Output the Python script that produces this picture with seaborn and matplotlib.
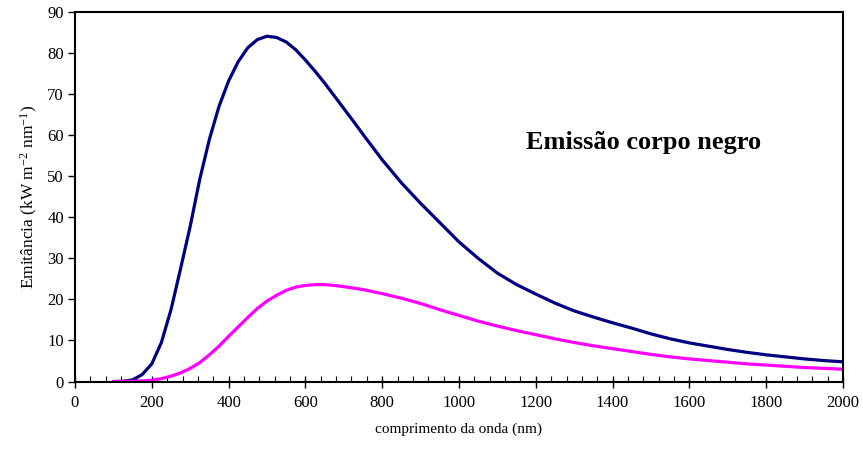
import numpy as np
import pandas as pd
import matplotlib
matplotlib.use('Agg')
import matplotlib.pyplot as plt
from matplotlib.ticker import MultipleLocator
import seaborn as sns

# values (nm, kW m-2 nm-1)
wl_hot = [100, 125, 150, 175, 200, 225, 250, 275, 300, 325, 350, 375, 400, 425, 450,
          475, 500, 525, 550, 575, 600, 625, 650, 675, 700, 725, 750, 775, 800, 850,
          900, 950, 1000, 1050, 1100, 1150, 1200, 1250, 1300, 1350, 1400, 1450, 1500,
          1550, 1600, 1650, 1700, 1750, 1800, 1850, 1900, 1950, 2000]
em_hot = [0.0, 0.05, 0.4, 1.7, 4.3, 9.5, 17.5, 27.5, 37.8, 49.3, 59.0, 67.0, 73.2, 77.9, 81.3,
          83.3, 84.1, 83.8, 82.7, 80.8, 78.3, 75.6, 72.7, 69.6, 66.5, 63.4, 60.2, 57.1, 54.0, 48.4,
          43.4, 38.7, 34.0, 30.0, 26.4, 23.6, 21.3, 19.1, 17.2, 15.7, 14.3, 13.0, 11.6,
          10.4, 9.4, 8.6, 7.8, 7.1, 6.5, 6.0, 5.5, 5.1, 4.8]

wl_cool = [100, 150, 200, 225, 250, 275, 300, 325, 350, 375, 400, 425, 450, 475, 500,
           525, 550, 575, 600, 625, 650, 675, 700, 750, 800, 850, 900, 950, 1000, 1050,
           1100, 1150, 1200, 1250, 1300, 1350, 1400, 1450, 1500, 1550, 1600, 1650, 1700,
           1750, 1800, 1850, 1900, 1950, 2000]
em_cool = [0.0, 0.05, 0.3, 0.7, 1.3, 2.1, 3.2, 4.6, 6.5, 8.6, 11.0, 13.3, 15.6, 17.8, 19.6,
           21.0, 22.2, 23.0, 23.4, 23.6, 23.6, 23.4, 23.1, 22.4, 21.4, 20.3, 19.0, 17.5, 16.1, 14.7,
           13.5, 12.4, 11.4, 10.4, 9.5, 8.7, 8.0, 7.3, 6.6, 6.0, 5.5, 5.1, 4.7,
           4.3, 4.0, 3.7, 3.4, 3.2, 3.0]

sns.set_theme(style='white')
plt.rcParams['font.family'] = ['Liberation Serif', 'DejaVu Serif']
plt.rcParams['mathtext.default'] = 'regular'
for k in ['text.color', 'axes.labelcolor', 'xtick.color', 'ytick.color']:
    plt.rcParams[k] = 'black'

fig = plt.figure(figsize=(8.63, 4.57), dpi=100)
ax = fig.add_axes([0.0869, 0.1652, 0.8899, 0.8085])

sns.lineplot(x=wl_hot, y=em_hot, ax=ax, color='#000080', linewidth=2.3,
             solid_joinstyle='round')
sns.lineplot(x=wl_cool, y=em_cool, ax=ax, color='#FF00FF', linewidth=2.3,
             solid_joinstyle='round')

ax.set_xlim(0, 2000)
ax.set_ylim(0, 90)
ax.xaxis.set_major_locator(MultipleLocator(200))
ax.xaxis.set_minor_locator(MultipleLocator(40))
ax.yaxis.set_major_locator(MultipleLocator(10))

for s in ax.spines.values():
    s.set_color('black')
    s.set_linewidth(1.5)

ax.tick_params(axis='x', which='major', direction='inout', length=8, width=1,
               colors='black', labelsize=12, pad=6, bottom=True)
ax.tick_params(axis='x', which='minor', direction='in', length=4, width=0.8,
               colors='black', bottom=True)
ax.tick_params(axis='y', which='major', direction='out', length=5, width=1,
               colors='black', labelsize=12, pad=3, left=True)

ax.set_xlabel('comprimento da onda (nm)', fontsize=11, labelpad=8)
ax.set_ylabel('Emitância (kW m$^{-2}$ nm$^{-1}$)', fontsize=12.5, labelpad=5)

ax.text(1480, 58.2, 'Emissão corpo negro', fontsize=19, fontweight='bold',
        ha='center', va='center')

plt.savefig('out.png', dpi=100)
